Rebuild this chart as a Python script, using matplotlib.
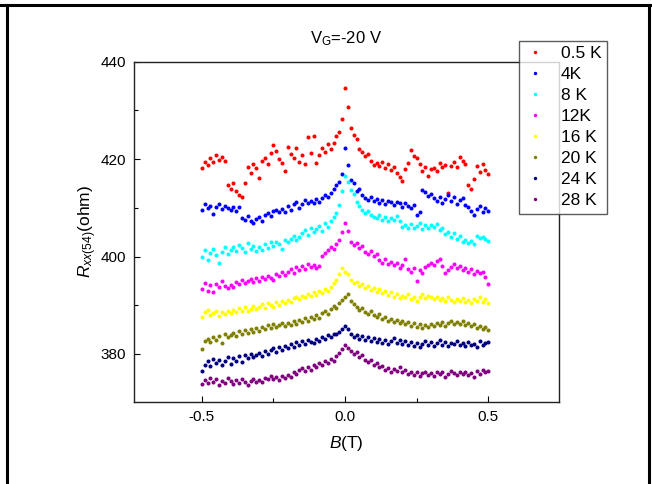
import numpy as np
import matplotlib
matplotlib.use('Agg')
import matplotlib.pyplot as plt
from matplotlib.lines import Line2D
from matplotlib.ticker import MultipleLocator

plt.rcParams['font.family'] = ['Liberation Sans', 'DejaVu Sans']
plt.rcParams['mathtext.fontset'] = 'custom'
plt.rcParams['mathtext.rm'] = 'Liberation Sans'
plt.rcParams['mathtext.it'] = 'Liberation Sans:italic'

# magnetic field sweep, -0.5 T .. 0.5 T in 0.01 T steps
B = np.round(np.arange(-50, 51) * 0.01, 2)

r_05K = [418.2, 419.5, 418.8, 420.3, 419.4, 420.8, 419.9, 420.4, 419.6, 414.6,
         413.8, 415.2, 413.4, 412.6, 412.3, 415.0, 418.4, 417.2, 419.0, 418.1,
         416.1, 419.6, 420.3, 419.1, 421.2, 422.8, 421.6, 420.0, 419.2, 417.6,
         422.4, 421.0, 420.2, 422.3, 419.4, 420.8, 418.9, 424.6, 421.2, 424.7,
         419.3, 420.8, 422.3, 421.5, 423.1, 422.0, 423.4, 424.8, 425.6, 428.2,
         434.6, 430.6, 426.3, 424.9, 424.1, 422.0, 421.4, 420.6, 421.0, 419.7,
         418.8, 419.3, 418.6, 419.4, 418.2, 419.0, 417.8, 418.4, 417.2, 416.4,
         415.6, 418.0, 419.3, 421.8, 420.7, 420.2, 418.9, 417.6, 418.3, 416.5,
         417.9, 418.2, 417.6, 419.2, 418.4, 418.8, 413.0, 418.6, 419.5, 418.4,
         420.4, 419.7, 419.0, 414.6, 413.8, 415.9, 418.6, 417.4, 419.1, 417.8,
         416.9]
r_4K = [409.6, 410.8, 409.9, 410.4, 408.7, 410.2, 410.7, 409.8, 410.3, 410.0,
        409.6, 410.1, 409.3, 410.2, 408.0, 407.6, 408.3, 407.2, 406.8, 407.7,
        408.2, 407.4, 408.6, 409.0, 408.4, 409.3, 409.6, 409.1, 409.8, 409.2,
        410.4, 409.6, 410.8, 411.3, 409.9, 410.7, 411.6, 410.9, 411.4, 411.0,
        411.8, 411.2, 412.0, 412.6, 412.2, 413.1, 413.8, 414.6, 415.3, 417.0,
        422.3, 418.8, 415.8, 415.2, 413.4, 413.9, 412.6, 412.1, 411.6, 412.3,
        411.4, 411.9, 411.0, 411.7, 410.8, 411.5, 411.2, 410.6, 411.3, 410.9,
        410.2, 411.0, 410.4, 409.9, 410.6, 408.6, 409.2, 413.6, 413.2, 412.4,
        412.8, 412.0, 411.4, 412.3, 411.0, 411.8, 412.6, 411.5, 412.2, 410.8,
        411.6, 412.0, 410.6, 410.1, 409.4, 408.6, 409.8, 410.4, 409.2, 409.9,
        409.3]
r_8K = [400.0, 401.3, 399.2, 400.8, 401.6, 400.4, 398.6, 401.0, 401.9, 400.6,
        401.4, 402.0, 401.2, 402.4, 401.8, 401.0, 402.8, 401.6, 402.2, 401.1,
        402.0, 401.4, 402.6, 401.8, 402.9, 402.2, 403.0, 402.5, 401.6, 403.3,
        403.0, 403.6, 404.2, 403.4, 404.0, 404.8, 405.5, 404.4, 405.8, 405.0,
        405.6, 406.2, 405.3, 406.8, 406.0, 407.4, 408.2, 409.0, 410.6, 413.4,
        416.5, 415.4, 413.6, 412.8, 411.2, 410.4, 409.6, 409.0, 409.4, 408.6,
        408.2, 407.9, 408.6, 407.6, 408.1, 407.4, 408.0, 407.6, 408.3, 407.2,
        406.0, 406.4, 405.8, 406.6, 405.9, 406.3, 406.8, 405.6, 406.5, 405.9,
        406.4, 406.0, 406.6, 405.4, 405.8, 404.6, 405.1, 404.0, 404.8, 403.6,
        404.2, 403.0, 403.5, 402.8, 403.2, 402.6, 404.3, 403.8, 404.1, 403.6,
        403.2]
r_12K = [393.4, 394.6, 393.0, 394.2, 392.8, 394.4, 393.8, 395.0, 394.0, 393.6,
         394.2, 393.8, 394.8, 394.4, 395.2, 394.6, 394.9, 395.4, 394.7, 395.6,
         395.0, 395.8, 395.3, 396.0, 395.5, 395.2, 396.4, 396.0, 396.8, 396.3,
         396.9, 397.4, 396.6, 397.8, 397.2, 398.0, 397.5, 398.4, 397.8, 398.2,
         397.6, 398.0, 400.2, 400.8, 401.4, 402.0, 401.6, 402.6, 403.4, 405.0,
         406.8, 405.2, 403.0, 402.4, 402.8, 401.8, 402.2, 401.0, 400.6, 401.2,
         400.2, 400.6, 399.2, 398.6, 399.4, 398.4, 398.9, 398.2, 398.6, 397.6,
         398.3, 399.6, 397.4, 396.8, 397.6, 395.0, 397.2, 396.6, 397.8, 398.2,
         398.6, 398.2, 399.0, 399.4, 398.0, 396.6, 397.3, 397.8, 398.4, 397.6,
         398.1, 397.3, 397.6, 396.8, 397.4, 396.4, 397.0, 396.6, 396.8, 395.8,
         394.4]
r_16K = [387.6, 388.6, 389.0, 388.0, 388.4, 388.9, 387.8, 388.6, 388.2, 388.8,
         388.4, 389.1, 388.6, 389.4, 388.8, 389.6, 388.9, 389.3, 389.8, 389.2,
         389.6, 390.2, 389.4, 390.5, 390.0, 389.7, 390.6, 390.1, 390.9, 390.4,
         391.0, 390.6, 391.4, 391.8, 391.2, 392.0, 391.6, 392.4, 392.0, 392.7,
         392.2, 393.0, 392.6, 393.4, 393.0, 393.8, 394.6, 395.2, 396.4, 397.6,
         396.8, 396.4, 395.2, 394.6, 394.8, 394.0, 394.4, 393.6, 394.0, 393.2,
         393.6, 392.8, 393.3, 392.6, 393.0, 392.2, 392.8, 391.8, 392.4, 391.4,
         392.0, 391.6, 392.4, 391.2, 391.8, 390.8, 391.6, 392.4, 391.4, 392.0,
         391.6, 391.2, 391.8, 391.0, 391.4, 390.8, 391.6, 391.0, 390.6, 391.2,
         390.8, 391.4, 390.6, 391.0, 390.4, 391.2, 390.8, 391.6, 390.6, 391.2,
         390.4]
r_20K = [381.0, 382.6, 383.0, 382.4, 383.4, 382.8, 383.6, 382.2, 384.0, 383.4,
         383.8, 384.4, 383.6, 384.8, 384.2, 385.0, 384.4, 385.2, 384.6, 385.4,
         384.8, 385.6, 385.2, 386.0, 385.4, 386.2, 385.6, 385.9, 386.4, 385.8,
         386.4, 386.0, 386.8, 386.2, 387.0, 386.6, 387.4, 386.8, 387.6, 387.2,
         388.0, 387.4, 388.4, 388.8, 388.2, 389.2, 389.8, 389.4, 390.4, 391.0,
         391.6, 392.4, 390.8, 390.2, 389.6, 389.0, 389.4, 388.6, 388.2, 388.8,
         388.0, 387.6, 388.2, 387.2, 387.6, 386.8, 387.2, 386.6, 387.0, 386.4,
         386.8, 386.2, 386.6, 385.8, 386.4, 385.6, 386.2, 385.4, 386.0, 385.6,
         386.2, 385.8, 386.4, 386.0, 386.6, 385.8, 386.4, 386.8, 386.2, 386.6,
         386.2, 386.8, 386.0, 386.4, 385.8, 386.2, 385.4, 385.8, 385.2, 385.6,
         385.0]
r_24K = [376.6, 377.8, 378.6, 377.6, 379.0, 378.2, 378.8, 377.8, 378.6, 379.4,
         378.0, 379.2, 378.6, 379.6, 378.4, 379.8, 379.2, 380.0, 379.4, 379.8,
         380.2, 379.6, 380.6, 380.0, 380.8, 381.2, 380.4, 381.4, 380.8, 381.6,
         381.2, 382.0, 381.4, 382.4, 381.8, 382.6, 382.0, 382.8, 382.4, 382.2,
         383.0, 382.6, 383.4, 383.0, 383.8, 383.4, 384.2, 384.0, 384.6, 385.2,
         385.8, 385.2, 384.2, 383.4, 383.8, 383.0, 383.6, 382.8, 383.4, 382.6,
         383.2, 382.4, 383.0, 382.2, 382.8, 382.0, 382.6, 383.2, 382.2, 382.8,
         382.0, 382.6, 381.8, 382.4, 381.6, 382.2, 381.4, 382.0, 382.6, 381.8,
         382.4, 381.6, 382.2, 382.8, 381.8, 382.4, 381.6, 382.2, 382.0, 382.6,
         381.8, 382.2, 381.6, 382.4, 381.8, 382.0, 381.4, 382.6, 381.8, 382.2,
         382.4]
r_28K = [373.8, 374.6, 374.0, 375.0, 374.2, 374.8, 373.6, 374.4, 374.0, 375.0,
         374.4, 373.8, 374.6, 374.0, 374.8, 374.2, 373.6, 374.4, 374.8, 374.2,
         374.6, 374.2, 375.0, 374.8, 375.4, 374.8, 375.2, 374.6, 375.4, 375.0,
         375.6, 375.2, 376.2, 375.8, 376.8, 377.2, 376.6, 377.4, 376.8, 377.8,
         377.4, 378.2, 377.8, 378.6, 378.2, 379.0, 378.6, 379.6, 380.2, 381.0,
         381.8, 381.2, 380.6, 380.0, 380.4, 379.4, 379.8, 378.8, 378.4, 378.8,
         377.8, 378.2, 377.4, 377.6, 376.8, 377.2, 376.4, 377.0, 376.6, 377.4,
         376.2, 376.8, 375.8, 376.4, 375.6, 376.2, 375.4, 376.0, 376.4, 375.6,
         376.0, 375.4, 376.2, 375.8, 376.4, 375.2, 375.8, 376.6, 376.0, 375.6,
         376.2, 375.8, 376.4, 375.6, 376.0, 375.2, 376.6, 375.8, 376.8, 376.2,
         376.6]

series = [r_05K, r_4K, r_8K, r_12K, r_16K, r_20K, r_24K, r_28K]
labels = ['0.5 K', '4K', '8 K', '12K', '16 K', '20 K', '24 K', '28 K']
colors = ['#ff0000', '#0000ff', '#00ffff', '#ff00ff', '#ffff00', '#808000', '#000080', '#800080']

fig = plt.figure(figsize=(6.52, 4.84), dpi=100)
ax = fig.add_axes([0.2055, 0.1700, 0.6515, 0.7025])

for r, lab, c in zip(series, labels, colors):
    ax.plot(B, r, 'o', ms=2.9, mec='none', color=c, label=lab)

ax.set_xlim(-0.737, 0.746)
ax.set_ylim(370.2, 440)
ax.xaxis.set_minor_locator(MultipleLocator(0.25))
ax.yaxis.set_major_locator(MultipleLocator(20))
ax.yaxis.set_minor_locator(MultipleLocator(10))
ax.set_xticks([-0.5, 0.0, 0.5])
ax.set_xticklabels(['-0.5', '0.0', '0.5'])
ax.tick_params(which='both', direction='in', labelsize=11, top=False, right=False)
ax.tick_params(which='major', length=4.5, width=0.8, pad=6)
ax.tick_params(which='minor', length=3, width=0.8)
for s in ax.spines.values():
    s.set_linewidth(1.0)
    s.set_color('#222222')

ax.set_xlabel(r'$B$(T)', fontsize=12.5, labelpad=7)
ax.set_ylabel(r'$\mathit{R}_{\mathit{xx(54)}}$(ohm)', fontsize=12.5, labelpad=1)
ax.set_title(r'V$_\mathrm{G}$=-20 V', fontsize=12, pad=13)

leg = ax.legend(loc='upper left', bbox_to_anchor=(0.907, 1.062), borderaxespad=0,
                fontsize=12.5, frameon=True, fancybox=False, markerscale=0.85,
                handlelength=1.2, handletextpad=0.9, labelspacing=0.34,
                borderpad=0.3)
leg.get_frame().set_edgecolor('#333333')
leg.get_frame().set_linewidth(1.0)
leg.set_zorder(5)

# outer frame lines around the figure
fig.add_artist(Line2D([0, 1], [0.9897, 0.9897], color='black', lw=2.2, transform=fig.transFigure))
fig.add_artist(Line2D([0.0107, 0.0107], [0, 0.9897], color='black', lw=2.2, transform=fig.transFigure))
fig.add_artist(Line2D([0.9954, 0.9954], [0, 0.9897], color='black', lw=2.2, transform=fig.transFigure))

plt.savefig('out.png', dpi=100)
plt.close()
